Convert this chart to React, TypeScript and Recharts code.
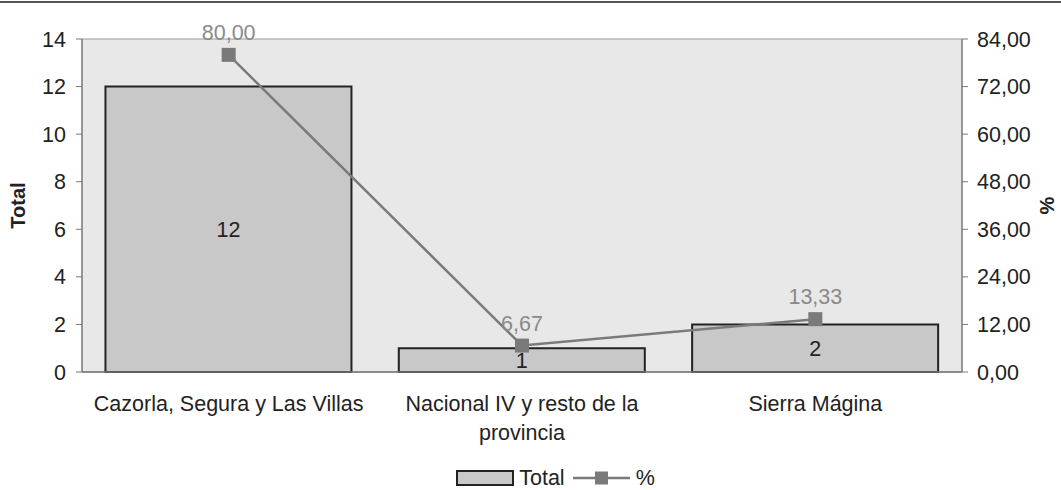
import React from 'react';
import { ComposedChart, Bar, Line, XAxis, YAxis, CartesianGrid, Legend, LabelList } from 'recharts';

const categories = ['Cazorla, Segura y Las Villas', 'Nacional IV y resto de la provincia', 'Sierra Mágina'];
const totals = [12, 1, 2];
const percents = [80.0, 6.67, 13.33];
const leftTicks = [0, 2, 4, 6, 8, 10, 12, 14];
const rightTicks = [0, 12, 24, 36, 48, 60, 72, 84];

const data = categories.map((c, i) => ({ name: c, total: totals[i], pct: percents[i] }));

const FONT = '"Liberation Sans", Arial, sans-serif';
const FS = 21.5;
const fmt = (v: number) => v.toFixed(2).replace('.', ',');

let ctx: CanvasRenderingContext2D | null = null;
const measure = (s: string) => {
  if (!ctx) {
    const c = document.createElement('canvas');
    ctx = c.getContext('2d');
  }
  if (!ctx) return s.length * FS * 0.5;
  ctx.font = `${FS}px ${FONT}`;
  return ctx.measureText(s).width;
};

const wrap = (s: string, maxW: number) => {
  const words = s.split(' ');
  const lines: string[] = [];
  let cur = '';
  for (const w of words) {
    const t = cur ? cur + ' ' + w : w;
    if (measure(t) > maxW && cur) {
      lines.push(cur);
      cur = w;
    } else {
      cur = t;
    }
  }
  if (cur) lines.push(cur);
  return lines;
};

const SquareDot = (props: any) => {
  const { cx, cy } = props;
  if (cx == null || cy == null) return null;
  return <rect x={cx - 7} y={cy - 7} width={14} height={14} fill="#7a7a7a" />;
};

const XTick = (props: any) => {
  const { x, y, payload } = props;
  const lines = wrap(String(payload.value), 288);
  return (
    <text x={x} y={y} textAnchor="middle" fill="#222" fontSize={FS} fontFamily={FONT}>
      {lines.map((l, i) => (
        <tspan key={i} x={x} dy={i === 0 ? 31 : 29}>{l}</tspan>
      ))}
    </text>
  );
};

const spanStyle: React.CSSProperties = { display: 'inline-block', height: 20, lineHeight: '20px' };

const LegendContent = () => (
  <div style={{ display: 'flex', justifyContent: 'center', alignItems: 'center', height: 20, lineHeight: '20px', fontFamily: FONT, fontSize: FS, color: '#222', paddingLeft: 50, marginTop: -2 }}>
    <svg width={58} height={18} style={{ marginRight: 5 }}>
      <rect x={1} y={2} width={56} height={14} fill="#c8c8c8" stroke="#222" strokeWidth={2} />
    </svg>
    <span style={{ ...spanStyle, marginRight: 8 }}>Total</span>
    <svg width={57} height={18} style={{ marginRight: 6 }}>
      <line x1={0} y1={9} x2={57} y2={9} stroke="#7a7a7a" strokeWidth={2.5} />
      <rect x={22} y={2.5} width={13} height={13} fill="#7a7a7a" />
    </svg>
    <span style={spanStyle}>%</span>
  </div>
);

export default function App() {
  return (
    <div style={{ position: 'absolute', left: 0, top: 0, width: 1061, height: 490, background: '#fff', overflow: 'hidden' }}>
      <div style={{ position: 'absolute', left: 0, top: 1, width: 1061, height: 0, borderTop: '2px solid #555' }} />
      <ComposedChart
        width={1061}
        height={490}
        data={data}
        margin={{ top: 39, right: 0, bottom: 0, left: 0 }}
        barCategoryGap="8%"
      >
        <CartesianGrid vertical={false} stroke="#9a9a9a" fill="#e8e8e8" strokeWidth={1.2} />
        <XAxis
          dataKey="name"
          height={98}
          tick={<XTick />}
          tickLine={false}
          axisLine={{ stroke: '#777', strokeWidth: 1.5 }}
          interval={0}
        />
        <YAxis
          yAxisId="left"
          domain={[0, 14]}
          ticks={leftTicks}
          width={82}
          tick={{ fontSize: FS, fill: '#222', fontFamily: FONT }}
          tickLine={{ stroke: '#777' }}
          tickSize={6}
          tickMargin={10}
          axisLine={{ stroke: '#777', strokeWidth: 1.5 }}
          label={{ value: 'Total', angle: -90, position: 'insideLeft', offset: 18, style: { fontSize: 20, fontWeight: 'bold', fill: '#222', fontFamily: FONT, textAnchor: 'middle' } }}
        />
        <YAxis
          yAxisId="right"
          orientation="right"
          domain={[0, 84]}
          ticks={rightTicks}
          width={99}
          tickFormatter={fmt}
          tick={{ fontSize: FS, fill: '#222', fontFamily: FONT }}
          tickLine={{ stroke: '#777' }}
          tickSize={6}
          tickMargin={9}
          axisLine={{ stroke: '#777', strokeWidth: 1.5 }}
          label={{ value: '%', angle: -90, position: 'insideRight', offset: 14, style: { fontSize: 20, fontWeight: 'bold', fill: '#222', fontFamily: FONT, textAnchor: 'middle' } }}
        />
        <Legend verticalAlign="bottom" height={20} content={<LegendContent />} />
        <Bar yAxisId="left" dataKey="total" fill="#c8c8c8" stroke="#222" strokeWidth={2} isAnimationActive={false}>
          <LabelList dataKey="total" position="center" style={{ fontSize: FS, fill: '#222', fontFamily: FONT }} />
        </Bar>
        <Line
          yAxisId="right"
          dataKey="pct"
          stroke="#7a7a7a"
          strokeWidth={2.5}
          dot={<SquareDot />}
          activeDot={false}
          isAnimationActive={false}
        >
          <LabelList dataKey="pct" position="top" offset={15} formatter={(v: any) => fmt(Number(v))} style={{ fontSize: FS, fill: '#8a8a8a', fontFamily: FONT }} />
        </Line>
      </ComposedChart>
    </div>
  );
}
